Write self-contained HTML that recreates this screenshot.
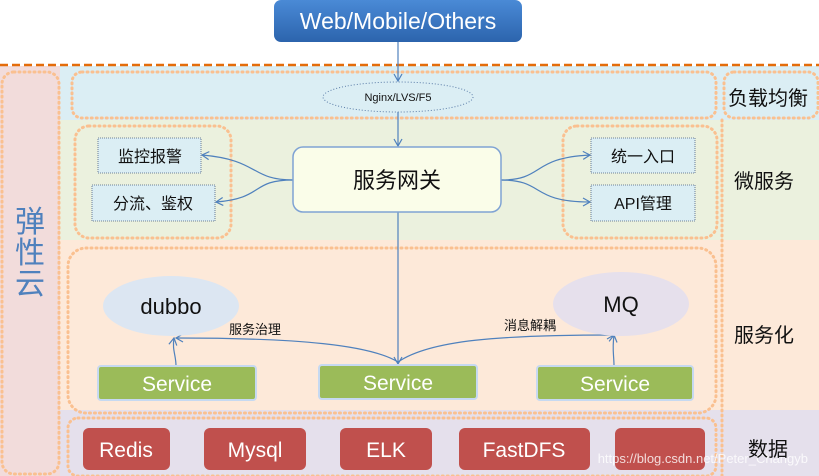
<!DOCTYPE html>
<html><head><meta charset="utf-8"><style>
body{margin:0;width:819px;height:476px;overflow:hidden;background:#fff}
svg{display:block}
text{font-family:"Liberation Sans","Noto Sans CJK SC",sans-serif}
</style></head><body>
<svg width="819" height="476" viewBox="0 0 819 476" xmlns="http://www.w3.org/2000/svg">
<defs>
<linearGradient id="bg" x1="0" y1="0" x2="0" y2="1"><stop offset="0" stop-color="#4a8ad6"/><stop offset="1" stop-color="#2c64ad"/></linearGradient>
<marker id="ar" markerWidth="10" markerHeight="10" refX="8" refY="5" orient="auto" markerUnits="userSpaceOnUse"><path d="M1,1 L8,5 L1,9" fill="none" stroke="#4f81bd" stroke-width="1.2"/></marker>
</defs>
<!-- bands -->
<rect x="0" y="66" width="60" height="410" fill="#f2dcdb"/>
<rect x="60" y="66" width="759" height="54" fill="#dbeef4"/>
<rect x="60" y="120" width="759" height="120" fill="#ebf1de"/>
<rect x="60" y="240" width="759" height="170" fill="#fde9d9"/>
<rect x="60" y="410" width="759" height="66" fill="#e5e0ec"/>
<line x1="0" y1="65" x2="819" y2="65" stroke="#e46c0a" stroke-width="2.5" stroke-dasharray="8,4"/>
<!-- dotted groups -->
<g fill="none" stroke="#fac090" stroke-width="3" stroke-dasharray="1,4" stroke-linecap="round">
<rect x="2" y="72" width="57" height="402" rx="12"/>
<rect x="72" y="72" width="644" height="46" rx="10"/>
<rect x="724" y="72" width="94" height="46" rx="10"/>
<rect x="75" y="126" width="156" height="112" rx="14"/>
<rect x="563" y="126" width="154" height="112" rx="14"/>
<rect x="68" y="248" width="648" height="165" rx="18"/>
<rect x="68" y="418" width="648" height="58" rx="10"/>
<line x1="722" y1="120" x2="722" y2="476"/>
</g>
<!-- top box -->
<rect x="274" y="0" width="248" height="42" rx="7" fill="url(#bg)"/>
<text x="398" y="29" font-size="23" fill="#fff" text-anchor="middle">Web/Mobile/Others</text>
<!-- lines -->
<g fill="none" stroke="#4f81bd" stroke-width="1.2">
<line x1="398" y1="42" x2="398" y2="81" marker-end="url(#ar)"/>
<line x1="398" y1="112" x2="398" y2="146" marker-end="url(#ar)"/>
<line x1="398" y1="212" x2="398" y2="364" marker-end="url(#ar)"/>
<path d="M293,180 C250,180 260,160 202,155" marker-end="url(#ar)"/>
<path d="M293,180 C250,180 265,198 216,202" marker-end="url(#ar)"/>
<path d="M501,180 C545,180 530,158 590,155" marker-end="url(#ar)"/>
<path d="M501,180 C545,180 530,202 590,202" marker-end="url(#ar)"/>
<path d="M398,362 C370,345 300,338 176,338" marker-end="url(#ar)"/>
<path d="M398,362 C430,340 500,335 614,335" marker-end="url(#ar)"/>
<path d="M176,366 C176,355 172,350 174,338" marker-end="url(#ar)"/>
<path d="M614,366 C614,355 612,350 614,335" marker-end="url(#ar)"/>
</g>
<!-- nginx -->
<ellipse cx="398" cy="97" rx="75" ry="15" fill="#dbeef4" stroke="#5a7ca8" stroke-width="1" stroke-dasharray="1,2"/>
<text x="398" y="101" font-size="11" text-anchor="middle" fill="#111">Nginx/LVS/F5</text>
<!-- gateway -->
<rect x="293" y="147" width="208" height="65" rx="10" fill="#fafde9" stroke="#7fa3d4" stroke-width="1.5"/>
<text x="397" y="188" font-size="22" text-anchor="middle" fill="#111">服务网关</text>
<!-- small boxes -->
<g fill="#dbeef4" stroke="#4a5e80" stroke-width="0.8" stroke-dasharray="1,1">
<rect x="98" y="138" width="103" height="35"/>
<rect x="92" y="185" width="123" height="36"/>
<rect x="591" y="138" width="104" height="35"/>
<rect x="591" y="185" width="104" height="36"/>
</g>
<g font-size="16" fill="#111" text-anchor="middle">
<text x="150" y="162">监控报警</text>
<text x="153" y="209">分流、鉴权</text>
<text x="643" y="162">统一入口</text>
<text x="643" y="209">API管理</text>
</g>
<!-- dubbo / MQ -->
<ellipse cx="171" cy="306" rx="68" ry="30" fill="#dce6f2"/>
<text x="171" y="314" font-size="22" text-anchor="middle" fill="#111">dubbo</text>
<ellipse cx="621" cy="304" rx="68" ry="32" fill="#e6e0ec"/>
<text x="621" y="312" font-size="22" text-anchor="middle" fill="#111">MQ</text>
<text x="255" y="334" font-size="13" text-anchor="middle" fill="#111">服务治理</text>
<text x="530" y="330" font-size="13" text-anchor="middle" fill="#111">消息解耦</text>
<!-- services -->
<g fill="#9bbb59" stroke="#c6d9f1" stroke-width="2">
<rect x="98" y="366" width="158" height="34" rx="3"/>
<rect x="319" y="365" width="158" height="34" rx="3"/>
<rect x="537" y="366" width="156" height="34" rx="3"/>
</g>
<g font-size="21" fill="#fff" text-anchor="middle">
<text x="177" y="391">Service</text>
<text x="398" y="390">Service</text>
<text x="615" y="391">Service</text>
</g>
<!-- data -->
<g fill="#c0504d">
<rect x="83" y="428" width="87" height="42" rx="6"/>
<rect x="204" y="428" width="102" height="42" rx="6"/>
<rect x="340" y="428" width="92" height="42" rx="6"/>
<rect x="459" y="428" width="131" height="42" rx="6"/>
<rect x="615" y="428" width="90" height="42" rx="6"/>
</g>
<g font-size="21" fill="#fff" text-anchor="middle">
<text x="126" y="457">Redis</text>
<text x="255" y="457">Mysql</text>
<text x="386" y="457">ELK</text>
<text x="524" y="457">FastDFS</text>
</g>
<text x="808" y="463" font-size="13" fill="#fff" fill-opacity="0.8" text-anchor="end">https://blog.csdn.net/Peter_Changyb</text>
<!-- right labels -->
<g font-size="20" fill="#111">
<text x="728" y="105">负载均衡</text>
<text x="734" y="188">微服务</text>
<text x="734" y="342">服务化</text>
<text x="748" y="456">数据</text>
</g>
<g font-size="30" fill="#4f81bd" text-anchor="middle">
<text x="30" y="232">弹</text>
<text x="30" y="263">性</text>
<text x="30" y="294">云</text>
</g>
</svg>
</body></html>
